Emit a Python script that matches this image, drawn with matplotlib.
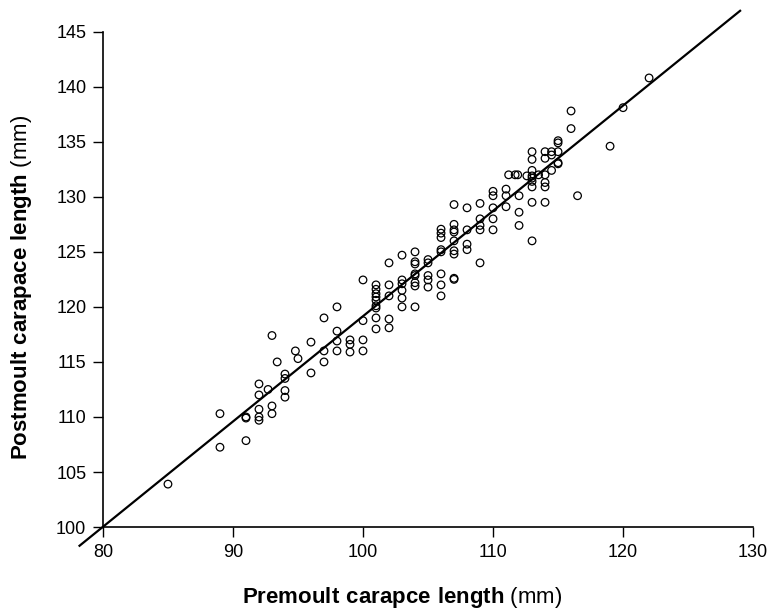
import numpy as np
import matplotlib
matplotlib.use("Agg")
from matplotlib import pyplot as plt

plt.rcParams['font.family'] = ['Liberation Sans', 'DejaVu Sans']
plt.rcParams['mathtext.fontset'] = 'custom'
plt.rcParams['mathtext.rm'] = 'Liberation Sans'
plt.rcParams['mathtext.bf'] = 'Liberation Sans:bold'

# premoult length (mm) and matching postmoult lengths
premoult = [
    85,
    89, 89,
    91, 91, 91,
    92, 92, 92, 92, 92,
    92.7,
    93, 93, 93,
    93.4,
    94, 94, 94, 94,
    94.8, 95,
    96, 96,
    97, 97, 97,
    98, 98, 98, 98,
    99, 99, 99,
    100, 100, 100, 100,
    101, 101, 101, 101, 101, 101, 101, 101, 101,
    102, 102, 102, 102, 102,
    103, 103, 103, 103, 103, 103,
    104, 104, 104, 104, 104, 104, 104, 104,
    105, 105, 105, 105, 105,
    106, 106, 106, 106, 106, 106, 106, 106,
    107, 107, 107, 107, 107, 107, 107, 107, 107,
    108, 108, 108, 108,
    109, 109, 109, 109, 109,
    110, 110, 110, 110, 110,
    111, 111, 111,
    111.2, 111.7, 111.9,
    112, 112, 112,
    112.6,
    113, 113, 113, 113, 113, 113, 113, 113, 113,
    113.5,
    114, 114, 114, 114, 114, 114,
    114.5, 114.5, 114.5,
    115, 115, 115, 115, 115,
    116, 116,
    116.5,
    119,
    120,
    122,
]
postmoult = [
    103.9,
    110.3, 107.25,
    110.0, 109.9, 107.85,
    113.0, 112.0, 110.7, 110.0, 109.7,
    112.5,
    117.4, 111.0, 110.3,
    115.0,
    113.9, 113.5, 112.4, 111.8,
    116.0, 115.3,
    116.8, 114.0,
    119.0, 116.0, 115.0,
    120.0, 117.8, 116.9, 116.0,
    117.0, 116.6, 115.9,
    122.45, 118.75, 117.0, 116.0,
    122.0, 121.6, 121.2, 120.9, 120.6, 120.1, 119.9, 119.0, 118.0,
    124.0, 122.0, 121.0, 118.9, 118.1,
    124.7, 122.45, 122.1, 121.5, 120.8, 120.0,
    125.0, 124.1, 123.9, 123.0, 122.85, 122.2, 121.9, 120.0,
    124.3, 124.0, 122.85, 122.45, 121.8,
    127.06, 126.7, 126.3, 125.2, 125.0, 123.0, 122.0, 121.0,
    129.3, 127.5, 127.0, 126.8, 126.0, 125.1, 124.8, 122.6, 122.5,
    129.0, 127.0, 125.7, 125.2,
    129.4, 128.0, 127.4, 127.0, 124.0,
    130.5, 130.1, 129.0, 128.0, 127.0,
    130.7, 130.1, 129.1,
    132.0, 132.0, 132.0,
    130.1, 128.6, 127.4,
    131.9,
    134.1, 133.4, 132.4, 131.9, 131.7, 131.4, 130.9, 129.5, 126.0,
    132.0,
    134.1, 133.5, 132.0, 131.3, 130.9, 129.5,
    134.1, 133.8, 132.4,
    135.1, 134.9, 134.1, 133.1, 133.0,
    137.8, 136.2,
    130.1,
    134.6,
    138.1,
    140.8,
]

# fitted line (ends as drawn in the figure)
fit_x = [78.2, 129.0]
fit_y = [98.3, 146.9]

x_ticks = [80, 90, 100, 110, 120, 130]
y_ticks = [100, 105, 110, 115, 120, 125, 130, 135, 140, 145]

fig = plt.figure(figsize=(7.74, 6.10), dpi=100)
ax = fig.add_axes([0.133, 0.136, 0.840, 0.812])

ax.scatter(premoult, postmoult, s=30, facecolors='none', edgecolors='black',
           linewidths=0.9, zorder=3, clip_on=False)
ax.plot(fit_x, fit_y, color='black', lw=1.6, clip_on=False, zorder=2)

ax.set_xlim(80, 130)
ax.set_ylim(100, 145)
ax.set_xticks(x_ticks)
ax.set_yticks(y_ticks)
ax.tick_params(direction='out', length=7, width=1, labelsize=13, pad=5)

for side in ['top', 'right']:
    ax.spines[side].set_visible(False)
for side in ['left', 'bottom']:
    ax.spines[side].set_linewidth(1.2)

fig.text(402 / 774, 1 - 597 / 610, r"$\bf{Premoult\ carapce\ length}$ (mm)",
         fontsize=16, ha='center', va='center')
fig.text(22 / 774, 1 - 287 / 610, r"$\bf{Postmoult\ carapace\ length}$ (mm)",
         fontsize=16, ha='center', va='center', rotation=90)

fig.savefig("out.png", dpi=100)
